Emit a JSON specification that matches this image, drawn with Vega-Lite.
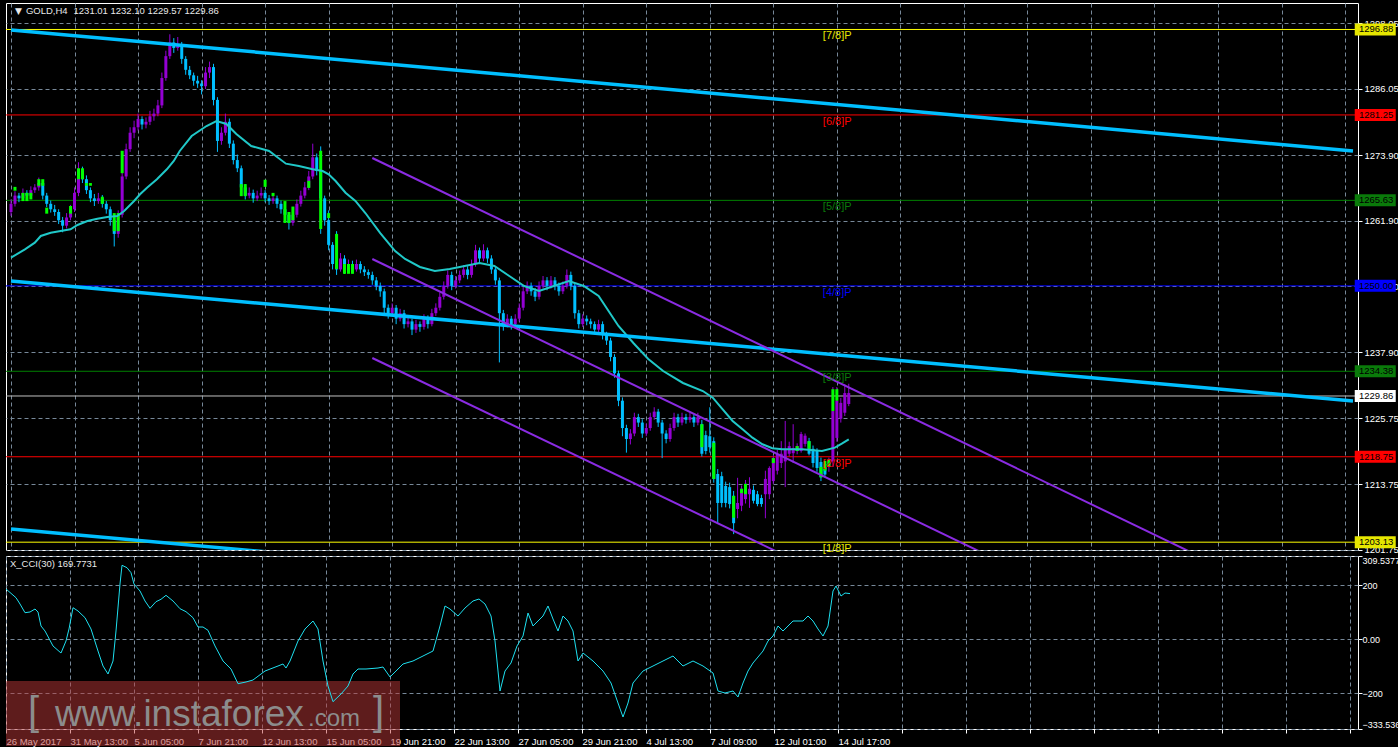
{
"$schema":"https://vega.github.io/schema/vega-lite/v6.json",
"background":"#000000",
"padding":{"left":3,"top":2,"right":0,"bottom":0},
"autosize":{"type":"pad"},
"bounds":"flush",
"spacing":6,
"config":{
 "view":{"stroke":"#ffffff","strokeWidth":1},
 "axis":{"gridColor":"#778899","gridDash":[4,3],"gridWidth":1,"gridOpacity":1,"labelColor":"#ffffff","labelFont":"Liberation Sans","labelFontSize":9.5,"tickColor":"#ffffff","tickSize":4,"domain":false,"labelOverlap":false},
 "text":{"font":"Liberation Sans"}
},
"datasets":{
"bars":[
{"i":0,"o":1263.5,"h":1265.8,"l":1262.8,"c":1265.0},{"i":1,"o":1265.0,"h":1267.3,"l":1264.5,"c":1266.5},{"i":2,"o":1266.5,"h":1267.0,"l":1265.3,"c":1266.0},{"i":3,"o":1266.0,"h":1267.8,"l":1265.5,"c":1267.0},{"i":4,"o":1267.0,"h":1267.5,"l":1265.8,"c":1266.5},{"i":5,"o":1266.5,"h":1268.2,"l":1266.0,"c":1267.5},{"i":6,"o":1267.5,"h":1268.6,"l":1267.0,"c":1268.0},{"i":7,"o":1268.0,"h":1269.8,"l":1267.4,"c":1268.8},{"i":8,"o":1268.8,"h":1269.2,"l":1265.8,"c":1266.5},{"i":9,"o":1266.5,"h":1267.0,"l":1264.4,"c":1265.0},
{"i":10,"o":1265.0,"h":1265.6,"l":1263.4,"c":1264.0},{"i":11,"o":1264.0,"h":1264.8,"l":1262.8,"c":1263.5},{"i":12,"o":1263.5,"h":1264.0,"l":1261.3,"c":1262.0},{"i":13,"o":1262.0,"h":1262.6,"l":1259.8,"c":1261.0},{"i":14,"o":1261.0,"h":1263.3,"l":1260.5,"c":1262.5},{"i":15,"o":1262.5,"h":1264.8,"l":1262.0,"c":1264.0},{"i":16,"o":1264.0,"h":1268.0,"l":1263.5,"c":1267.0},{"i":17,"o":1267.0,"h":1272.6,"l":1266.4,"c":1271.0},{"i":18,"o":1271.0,"h":1271.8,"l":1268.8,"c":1269.5},{"i":19,"o":1269.5,"h":1270.2,"l":1266.8,"c":1267.5},
{"i":20,"o":1267.5,"h":1268.0,"l":1265.3,"c":1266.0},{"i":21,"o":1266.0,"h":1266.8,"l":1264.6,"c":1265.5},{"i":22,"o":1265.5,"h":1267.0,"l":1265.0,"c":1266.0},{"i":23,"o":1266.0,"h":1266.6,"l":1264.3,"c":1265.0},{"i":24,"o":1265.0,"h":1265.5,"l":1263.2,"c":1264.0},{"i":25,"o":1264.0,"h":1264.5,"l":1261.0,"c":1262.0},{"i":26,"o":1262.0,"h":1262.6,"l":1257.2,"c":1259.5},{"i":27,"o":1259.5,"h":1263.8,"l":1258.8,"c":1263.0},{"i":28,"o":1263.0,"h":1271.0,"l":1262.5,"c":1270.0},{"i":29,"o":1270.0,"h":1276.0,"l":1269.5,"c":1275.0},
{"i":30,"o":1275.0,"h":1279.0,"l":1274.5,"c":1278.0},{"i":31,"o":1278.0,"h":1280.2,"l":1277.0,"c":1279.0},{"i":32,"o":1279.0,"h":1281.5,"l":1278.4,"c":1280.5},{"i":33,"o":1280.5,"h":1281.0,"l":1278.6,"c":1279.5},{"i":34,"o":1279.5,"h":1280.8,"l":1278.8,"c":1280.0},{"i":35,"o":1280.0,"h":1282.0,"l":1279.4,"c":1281.0},{"i":36,"o":1281.0,"h":1282.4,"l":1280.2,"c":1281.5},{"i":37,"o":1281.5,"h":1284.0,"l":1281.0,"c":1283.0},{"i":38,"o":1283.0,"h":1289.0,"l":1282.5,"c":1288.0},{"i":39,"o":1288.0,"h":1293.0,"l":1287.5,"c":1292.0},
{"i":40,"o":1292.0,"h":1296.0,"l":1291.5,"c":1294.5},{"i":41,"o":1294.5,"h":1295.3,"l":1292.6,"c":1293.5},{"i":42,"o":1293.5,"h":1295.5,"l":1293.0,"c":1294.0},{"i":43,"o":1294.0,"h":1294.6,"l":1290.6,"c":1291.5},{"i":44,"o":1291.5,"h":1292.0,"l":1288.6,"c":1289.5},{"i":45,"o":1289.5,"h":1290.2,"l":1287.8,"c":1288.5},{"i":46,"o":1288.5,"h":1289.0,"l":1286.6,"c":1287.5},{"i":47,"o":1287.5,"h":1288.4,"l":1286.2,"c":1287.0},{"i":48,"o":1287.0,"h":1287.6,"l":1285.0,"c":1286.5},{"i":49,"o":1286.5,"h":1290.0,"l":1286.0,"c":1289.0},
{"i":50,"o":1289.0,"h":1291.0,"l":1288.0,"c":1290.0},{"i":51,"o":1290.0,"h":1290.6,"l":1283.0,"c":1284.0},{"i":52,"o":1284.0,"h":1284.5,"l":1274.5,"c":1276.5},{"i":53,"o":1276.5,"h":1279.0,"l":1275.8,"c":1278.0},{"i":54,"o":1278.0,"h":1281.5,"l":1277.5,"c":1280.0},{"i":55,"o":1280.0,"h":1280.6,"l":1275.2,"c":1276.0},{"i":56,"o":1276.0,"h":1276.6,"l":1272.2,"c":1273.0},{"i":57,"o":1273.0,"h":1274.0,"l":1270.8,"c":1271.5},{"i":58,"o":1271.5,"h":1272.0,"l":1267.2,"c":1268.0},{"i":59,"o":1268.0,"h":1268.6,"l":1265.8,"c":1266.5},
{"i":60,"o":1266.5,"h":1268.0,"l":1266.0,"c":1267.0},{"i":61,"o":1267.0,"h":1267.6,"l":1265.2,"c":1266.0},{"i":62,"o":1266.0,"h":1267.4,"l":1265.5,"c":1266.5},{"i":63,"o":1266.5,"h":1268.0,"l":1266.0,"c":1267.0},{"i":64,"o":1267.0,"h":1267.5,"l":1265.3,"c":1266.0},{"i":65,"o":1266.0,"h":1266.6,"l":1264.8,"c":1265.5},{"i":66,"o":1265.5,"h":1266.8,"l":1265.0,"c":1266.0},{"i":67,"o":1266.0,"h":1266.5,"l":1264.2,"c":1265.0},{"i":68,"o":1265.0,"h":1265.6,"l":1263.2,"c":1264.0},{"i":69,"o":1264.0,"h":1264.6,"l":1262.2,"c":1263.0},
{"i":70,"o":1263.0,"h":1263.5,"l":1260.3,"c":1261.5},{"i":71,"o":1261.5,"h":1263.8,"l":1261.0,"c":1263.0},{"i":72,"o":1263.0,"h":1265.8,"l":1262.5,"c":1265.0},{"i":73,"o":1265.0,"h":1267.4,"l":1264.5,"c":1266.5},{"i":74,"o":1266.5,"h":1269.0,"l":1266.0,"c":1268.0},{"i":75,"o":1268.0,"h":1271.0,"l":1267.5,"c":1270.0},{"i":76,"o":1270.0,"h":1276.0,"l":1269.5,"c":1273.5},{"i":77,"o":1273.5,"h":1274.2,"l":1270.2,"c":1271.0},{"i":78,"o":1271.0,"h":1275.5,"l":1259.5,"c":1266.0},{"i":79,"o":1266.0,"h":1266.5,"l":1261.0,"c":1262.0},
{"i":80,"o":1262.0,"h":1263.8,"l":1256.5,"c":1257.5},{"i":81,"o":1257.5,"h":1258.0,"l":1253.0,"c":1254.0},{"i":82,"o":1254.0,"h":1260.0,"l":1252.0,"c":1253.0},{"i":83,"o":1253.0,"h":1256.0,"l":1252.6,"c":1255.0},{"i":84,"o":1255.0,"h":1255.6,"l":1252.2,"c":1253.0},{"i":85,"o":1253.0,"h":1254.8,"l":1252.5,"c":1254.0},{"i":86,"o":1254.0,"h":1254.6,"l":1252.3,"c":1253.0},{"i":87,"o":1253.0,"h":1254.8,"l":1252.6,"c":1254.0},{"i":88,"o":1254.0,"h":1254.5,"l":1252.3,"c":1253.0},{"i":89,"o":1253.0,"h":1253.6,"l":1251.8,"c":1252.5},
{"i":90,"o":1252.5,"h":1253.0,"l":1251.3,"c":1252.0},{"i":91,"o":1252.0,"h":1252.6,"l":1250.2,"c":1251.0},{"i":92,"o":1251.0,"h":1251.6,"l":1249.2,"c":1250.0},{"i":93,"o":1250.0,"h":1250.6,"l":1248.0,"c":1249.0},{"i":94,"o":1249.0,"h":1249.5,"l":1245.0,"c":1246.0},{"i":95,"o":1246.0,"h":1246.6,"l":1244.0,"c":1245.0},{"i":96,"o":1245.0,"h":1246.8,"l":1244.5,"c":1246.0},{"i":97,"o":1246.0,"h":1246.5,"l":1243.0,"c":1244.0},{"i":98,"o":1244.0,"h":1245.8,"l":1243.5,"c":1245.0},{"i":99,"o":1245.0,"h":1245.6,"l":1242.2,"c":1243.0},
{"i":100,"o":1243.0,"h":1244.3,"l":1242.4,"c":1243.5},{"i":101,"o":1243.5,"h":1244.0,"l":1241.0,"c":1242.0},{"i":102,"o":1242.0,"h":1243.8,"l":1241.4,"c":1243.0},{"i":103,"o":1243.0,"h":1243.5,"l":1241.6,"c":1242.5},{"i":104,"o":1242.5,"h":1244.8,"l":1242.0,"c":1244.0},{"i":105,"o":1244.0,"h":1244.6,"l":1242.2,"c":1243.0},{"i":106,"o":1243.0,"h":1245.8,"l":1242.6,"c":1245.0},{"i":107,"o":1245.0,"h":1246.8,"l":1244.5,"c":1246.0},{"i":108,"o":1246.0,"h":1248.8,"l":1245.5,"c":1248.0},{"i":109,"o":1248.0,"h":1250.8,"l":1247.5,"c":1250.0},
{"i":110,"o":1250.0,"h":1252.8,"l":1249.5,"c":1252.0},{"i":111,"o":1252.0,"h":1252.6,"l":1249.2,"c":1250.0},{"i":112,"o":1250.0,"h":1251.8,"l":1249.5,"c":1251.0},{"i":113,"o":1251.0,"h":1252.8,"l":1250.5,"c":1252.0},{"i":114,"o":1252.0,"h":1253.8,"l":1251.5,"c":1253.0},{"i":115,"o":1253.0,"h":1253.6,"l":1251.2,"c":1252.0},{"i":116,"o":1252.0,"h":1254.8,"l":1251.5,"c":1254.0},{"i":117,"o":1254.0,"h":1257.5,"l":1253.5,"c":1256.5},{"i":118,"o":1256.5,"h":1257.0,"l":1254.2,"c":1255.0},{"i":119,"o":1255.0,"h":1257.6,"l":1254.5,"c":1256.5},
{"i":120,"o":1256.5,"h":1257.0,"l":1254.2,"c":1255.0},{"i":121,"o":1255.0,"h":1255.6,"l":1252.2,"c":1253.0},{"i":122,"o":1253.0,"h":1253.6,"l":1250.2,"c":1251.0},{"i":123,"o":1251.0,"h":1251.5,"l":1236.0,"c":1245.0},{"i":124,"o":1245.0,"h":1245.6,"l":1241.8,"c":1243.0},{"i":125,"o":1243.0,"h":1244.8,"l":1242.4,"c":1244.0},{"i":126,"o":1244.0,"h":1244.5,"l":1242.0,"c":1243.0},{"i":127,"o":1243.0,"h":1244.8,"l":1242.5,"c":1244.0},{"i":128,"o":1244.0,"h":1246.8,"l":1243.5,"c":1246.0},{"i":129,"o":1246.0,"h":1249.8,"l":1245.5,"c":1249.0},
{"i":130,"o":1249.0,"h":1250.8,"l":1248.5,"c":1250.0},{"i":131,"o":1250.0,"h":1250.6,"l":1248.2,"c":1249.0},{"i":132,"o":1249.0,"h":1249.6,"l":1247.2,"c":1248.0},{"i":133,"o":1248.0,"h":1250.8,"l":1247.5,"c":1250.0},{"i":134,"o":1250.0,"h":1251.8,"l":1249.5,"c":1251.0},{"i":135,"o":1251.0,"h":1251.6,"l":1249.2,"c":1250.0},{"i":136,"o":1250.0,"h":1251.8,"l":1249.5,"c":1251.0},{"i":137,"o":1251.0,"h":1251.6,"l":1249.2,"c":1250.0},{"i":138,"o":1250.0,"h":1250.6,"l":1248.2,"c":1249.0},{"i":139,"o":1249.0,"h":1250.8,"l":1248.5,"c":1250.0},
{"i":140,"o":1250.0,"h":1253.0,"l":1249.5,"c":1252.0},{"i":141,"o":1252.0,"h":1252.6,"l":1249.2,"c":1250.0},{"i":142,"o":1250.0,"h":1250.5,"l":1244.0,"c":1245.0},{"i":143,"o":1245.0,"h":1245.6,"l":1242.2,"c":1243.0},{"i":144,"o":1243.0,"h":1244.8,"l":1242.5,"c":1244.0},{"i":145,"o":1244.0,"h":1244.6,"l":1242.8,"c":1243.5},{"i":146,"o":1243.5,"h":1244.0,"l":1242.2,"c":1243.0},{"i":147,"o":1243.0,"h":1243.5,"l":1241.2,"c":1242.0},{"i":148,"o":1242.0,"h":1243.8,"l":1241.5,"c":1243.0},{"i":149,"o":1243.0,"h":1243.5,"l":1240.2,"c":1241.0},
{"i":150,"o":1241.0,"h":1241.6,"l":1239.2,"c":1240.0},{"i":151,"o":1240.0,"h":1240.5,"l":1236.2,"c":1237.0},{"i":152,"o":1237.0,"h":1237.5,"l":1233.2,"c":1234.0},{"i":153,"o":1234.0,"h":1234.5,"l":1228.0,"c":1229.0},{"i":154,"o":1229.0,"h":1229.6,"l":1222.5,"c":1224.0},{"i":155,"o":1224.0,"h":1224.6,"l":1219.5,"c":1222.0},{"i":156,"o":1222.0,"h":1223.8,"l":1221.0,"c":1223.0},{"i":157,"o":1223.0,"h":1226.8,"l":1222.5,"c":1226.0},{"i":158,"o":1226.0,"h":1226.6,"l":1224.2,"c":1225.0},{"i":159,"o":1225.0,"h":1225.6,"l":1222.2,"c":1223.0},
{"i":160,"o":1223.0,"h":1224.8,"l":1222.5,"c":1224.0},{"i":161,"o":1224.0,"h":1226.8,"l":1223.5,"c":1226.0},{"i":162,"o":1226.0,"h":1227.8,"l":1225.5,"c":1227.0},{"i":163,"o":1227.0,"h":1227.5,"l":1224.2,"c":1225.0},{"i":164,"o":1225.0,"h":1225.5,"l":1218.5,"c":1223.0},{"i":165,"o":1223.0,"h":1223.6,"l":1221.2,"c":1222.0},{"i":166,"o":1222.0,"h":1224.8,"l":1221.5,"c":1224.0},{"i":167,"o":1224.0,"h":1226.8,"l":1223.5,"c":1226.0},{"i":168,"o":1226.0,"h":1226.6,"l":1224.2,"c":1225.0},{"i":169,"o":1225.0,"h":1226.8,"l":1224.5,"c":1226.0},
{"i":170,"o":1226.0,"h":1226.6,"l":1224.8,"c":1225.5},{"i":171,"o":1225.5,"h":1226.8,"l":1225.0,"c":1226.0},{"i":172,"o":1226.0,"h":1226.5,"l":1224.2,"c":1225.0},{"i":173,"o":1225.0,"h":1226.8,"l":1224.5,"c":1226.0},{"i":174,"o":1224.7,"h":1225.5,"l":1218.8,"c":1219.3},{"i":175,"o":1222.7,"h":1223.5,"l":1219.2,"c":1219.8},{"i":176,"o":1222.5,"h":1227.8,"l":1219.5,"c":1220.5},{"i":177,"o":1221.6,"h":1222.3,"l":1214.0,"c":1214.7},{"i":178,"o":1215.6,"h":1216.5,"l":1206.6,"c":1210.3},{"i":179,"o":1215.2,"h":1216.0,"l":1209.5,"c":1210.3},
{"i":180,"o":1213.4,"h":1214.2,"l":1209.5,"c":1210.3},{"i":181,"o":1213.2,"h":1214.0,"l":1209.3,"c":1210.1},{"i":182,"o":1211.6,"h":1212.5,"l":1204.6,"c":1206.6},{"i":183,"o":1209.2,"h":1214.9,"l":1207.5,"c":1210.3},{"i":184,"o":1209.8,"h":1213.5,"l":1208.8,"c":1212.9},{"i":185,"o":1211.0,"h":1214.5,"l":1210.2,"c":1213.8},{"i":186,"o":1211.9,"h":1215.0,"l":1209.4,"c":1212.9},{"i":187,"o":1212.7,"h":1213.5,"l":1210.2,"c":1210.7},{"i":188,"o":1211.9,"h":1212.5,"l":1209.7,"c":1210.1},{"i":189,"o":1211.2,"h":1211.8,"l":1209.6,"c":1210.1},
{"i":190,"o":1211.9,"h":1216.2,"l":1207.5,"c":1214.7},{"i":191,"o":1211.9,"h":1217.0,"l":1211.0,"c":1216.7},{"i":192,"o":1214.3,"h":1219.0,"l":1213.8,"c":1218.5},{"i":193,"o":1216.2,"h":1220.0,"l":1215.5,"c":1219.3},{"i":194,"o":1217.6,"h":1221.6,"l":1216.7,"c":1219.3},{"i":195,"o":1217.9,"h":1225.3,"l":1213.2,"c":1220.2},{"i":196,"o":1219.3,"h":1221.5,"l":1218.8,"c":1220.7},{"i":197,"o":1219.4,"h":1224.7,"l":1217.6,"c":1220.3},{"i":198,"o":1219.8,"h":1221.2,"l":1219.2,"c":1220.7},{"i":199,"o":1219.8,"h":1223.3,"l":1219.5,"c":1222.9},
{"i":200,"o":1221.1,"h":1223.0,"l":1220.6,"c":1222.6},{"i":201,"o":1221.6,"h":1222.2,"l":1219.0,"c":1219.3},{"i":202,"o":1220.2,"h":1220.8,"l":1216.8,"c":1217.6},{"i":203,"o":1219.8,"h":1220.3,"l":1216.0,"c":1216.7},{"i":204,"o":1217.8,"h":1218.6,"l":1214.3,"c":1215.0},{"i":205,"o":1217.4,"h":1218.0,"l":1215.0,"c":1215.5},{"i":206,"o":1216.9,"h":1218.6,"l":1216.0,"c":1218.3},{"i":207,"o":1217.9,"h":1231.5,"l":1216.9,"c":1227.1},{"i":208,"o":1222.2,"h":1231.5,"l":1221.5,"c":1229.0},{"i":209,"o":1225.7,"h":1229.5,"l":1225.0,"c":1228.6},
{"i":210,"o":1226.8,"h":1232.0,"l":1226.2,"c":1230.4},{"i":211,"o":1228.4,"h":1232.1,"l":1228.0,"c":1230.4}
],
"green":[
{"i":1,"a":1268.1,"b":1267.4},{"i":3,"a":1267.0,"b":1265.5},{"i":4,"a":1267.0,"b":1265.5},{"i":5,"a":1267.0,"b":1265.8},{"i":7,"a":1269.5,"b":1268.3},{"i":8,"a":1269.5,"b":1268.3},{"i":9,"a":1264.3,"b":1263.2},{"i":15,"a":1264.6,"b":1263.2},{"i":17,"a":1271.5,"b":1269.5},{"i":18,"a":1271.5,"b":1269.5},{"i":19,"a":1268.8,"b":1268.3},{"i":20,"a":1268.8,"b":1268.3},{"i":23,"a":1266.3,"b":1265.0},{"i":26,"a":1263.3,"b":1260.0},{"i":27,"a":1263.3,"b":1260.0},{"i":28,"a":1274.7,"b":1270.6},{"i":58,"a":1268.6,"b":1266.4},{"i":59,"a":1268.6,"b":1266.4},{"i":64,"a":1269.4,"b":1268.1},{"i":66,"a":1267.0,"b":1266.4},{"i":69,"a":1265.5,"b":1261.5},{"i":70,"a":1263.5,"b":1261.5},{"i":71,"a":1264.5,"b":1262.0},{"i":75,"a":1269.2,"b":1267.9},{"i":78,"a":1274.7,"b":1260.4},{"i":80,"a":1263.3,"b":1262.4},{"i":82,"a":1259.5,"b":1253.1},{"i":84,"a":1254.0,"b":1252.2},{"i":85,"a":1254.0,"b":1252.2},{"i":86,"a":1254.0,"b":1252.2},
{"i":174,"a":1224.7,"b":1220.5},{"i":177,"a":1221.3,"b":1214.7},{"i":182,"a":1211.6,"b":1207.6},{"i":184,"a":1212.9,"b":1212.1},{"i":185,"a":1213.8,"b":1211.9},{"i":192,"a":1218.5,"b":1217.6},{"i":198,"a":1220.7,"b":1219.8},{"i":201,"a":1221.6,"b":1220.2},{"i":204,"a":1216.9,"b":1215.0},{"i":205,"a":1218.0,"b":1216.2},{"i":206,"a":1218.3,"b":1216.9},{"i":207,"a":1231.1,"b":1227.1},{"i":208,"a":1231.1,"b":1229.0}
],
"ma":[
{"i":0,"p":1255.15},{"i":3.5,"p":1256.68},{"i":6,"p":1257.89},{"i":7.5,"p":1259.12},{"i":10,"p":1259.72},{"i":12.5,"p":1260.03},{"i":15,"p":1260.34},{"i":16.75,"p":1261.13},{"i":19.25,"p":1261.86},{"i":21.75,"p":1262.28},{"i":24.25,"p":1262.59},{"i":26.75,"p":1262.77},{"i":28.5,"p":1263.69},{"i":31,"p":1265.52},{"i":32.5,"p":1266.74},{"i":34.25,"p":1267.95},{"i":36.75,"p":1269.48},{"i":39.25,"p":1271.31},{"i":41,"p":1272.83},{"i":42.5,"p":1274.66},{"i":45.5,"p":1277.4},{"i":49.25,"p":1279.23},{"i":51.75,"p":1280.14},{"i":54.25,"p":1279.6},{"i":56.75,"p":1277.77},{"i":60.5,"p":1275.57},{"i":65,"p":1274.66},{"i":69.25,"p":1272.34},{"i":72.5,"p":1271.92},{"i":76,"p":1271.31},{"i":78.5,"p":1271.0},{"i":80,"p":1270.4},{"i":81.75,"p":1269.17},{"i":84.25,"p":1267.03},{"i":86.75,"p":1265.52},{"i":89.25,"p":1263.32},{"i":93,"p":1259.66},{"i":96.75,"p":1256.37},{"i":99.25,"p":1254.91},{"i":103,"p":1253.45},{"i":106.75,"p":1252.72},{"i":110.5,"p":1253.08},{"i":114.25,"p":1253.63},{"i":118,"p":1254.18},{"i":121.75,"p":1253.63},{"i":125.5,"p":1251.8},{"i":129.25,"p":1249.97},{"i":133,"p":1249.06},{"i":136.75,"p":1249.97},{"i":140.5,"p":1250.89},{"i":144.25,"p":1249.97},{"i":148,"p":1248.14},{"i":150.5,"p":1245.4},{"i":153,"p":1242.66},{"i":156.75,"p":1239.55},{"i":160.5,"p":1236.63},{"i":164.25,"p":1234.43},{"i":169.25,"p":1232.24},{"i":174.25,"p":1230.77},{"i":176.75,"p":1229.55},{"i":179.25,"p":1227.43},{"i":181.75,"p":1225.29},{"i":184.25,"p":1223.77},{"i":186.75,"p":1222.24},{"i":189.25,"p":1221.03},{"i":191.75,"p":1220.3},{"i":194.25,"p":1220.11},{"i":199.25,"p":1220.11},{"i":204.25,"p":1219.8},{"i":207.5,"p":1220.41},{"i":209.25,"p":1221.14},{"i":211,"p":1221.94}
],
"cci":[
{"i":0,"v":186.9},{"i":2.5,"v":154.5},{"i":3.5,"v":131.1},{"i":4.75,"v":98.8},{"i":6,"v":101.4},{"i":7.25,"v":112.5},{"i":8,"v":101.4},{"i":8.75,"v":49.3},{"i":9.75,"v":30.8},{"i":11.75,"v":-25.0},{"i":13.75,"v":-51.1},{"i":15,"v":-6.4},{"i":15.75,"v":38.2},{"i":16.75,"v":117.4},{"i":18,"v":105.1},{"i":19.75,"v":80.2},{"i":21.25,"v":38.2},{"i":23,"v":-43.6},{"i":24.25,"v":-99.4},{"i":25.5,"v":-129.1},{"i":26.75,"v":-80.8},{"i":27.5,"v":30.8},{"i":28.5,"v":205.4},{"i":29,"v":275.0},{"i":30.25,"v":266.0},{"i":31.25,"v":247.5},{"i":32,"v":205.4},{"i":33.5,"v":179.4},{"i":34.75,"v":142.3},{"i":36,"v":115.1},{"i":37.5,"v":139.7},{"i":38.75,"v":148.6},{"i":40,"v":163.4},{"i":41.75,"v":142.3},{"i":43.5,"v":113.6},{"i":45,"v":102.5},{"i":46.75,"v":80.2},{"i":48,"v":45.6},{"i":49.25,"v":45.6},{"i":50.5,"v":33.3},{"i":52.25,"v":-25.0},{"i":54.25,"v":-80.8},{"i":56.25,"v":-110.5},{"i":58,"v":-165.2},{"i":60,"v":-158.8},{"i":61.75,"v":-151.4},{"i":64.75,"v":-118.0},{"i":68,"v":-99.4},{"i":69.25,"v":-91.9},{"i":70,"v":-106.8},{"i":71,"v":-80.8},{"i":73,"v":-6.4},{"i":74.75,"v":38.2},{"i":76.75,"v":67.9},{"i":78,"v":38.2},{"i":79.25,"v":-80.8},{"i":80.5,"v":-173.7},{"i":81.75,"v":-232.0},{"i":83.75,"v":-203.4},{"i":85.5,"v":-173.7},{"i":86.75,"v":-129.1},{"i":88,"v":-110.5},{"i":90,"v":-110.5},{"i":93,"v":-106.8},{"i":94.25,"v":-103.1},{"i":96,"v":-140.2},{"i":97.5,"v":-118.0},{"i":99.25,"v":-91.9},{"i":101.75,"v":-80.8},{"i":104.25,"v":-62.2},{"i":106.75,"v":-43.6},{"i":108.5,"v":49.3},{"i":109.75,"v":123.7},{"i":111,"v":112.5},{"i":113,"v":86.5},{"i":114.75,"v":116.2},{"i":116.75,"v":142.3},{"i":118.25,"v":149.7},{"i":119.75,"v":131.1},{"i":121.25,"v":86.5},{"i":122.25,"v":-6.4},{"i":123.5,"v":-192.3},{"i":124.75,"v":-118.0},{"i":126.25,"v":-88.2},{"i":127.75,"v":-25.0},{"i":129.25,"v":12.1},{"i":130.5,"v":97.6},{"i":131.75,"v":49.3},{"i":133,"v":67.9},{"i":134.25,"v":86.5},{"i":135.5,"v":123.7},{"i":136.75,"v":75.3},{"i":138,"v":30.8},{"i":139.25,"v":86.5},{"i":140.5,"v":67.9},{"i":141.75,"v":30.8},{"i":143,"v":-80.8},{"i":144.25,"v":-51.1},{"i":146.75,"v":-80.8},{"i":149.25,"v":-118.0},{"i":151.25,"v":-162.6},{"i":153,"v":-236.9},{"i":154.25,"v":-289.0},{"i":155.5,"v":-236.9},{"i":156.75,"v":-162.6},{"i":159.25,"v":-118.0},{"i":161.75,"v":-99.4},{"i":164.25,"v":-80.8},{"i":166.75,"v":-62.2},{"i":169.25,"v":-99.4},{"i":171.75,"v":-80.8},{"i":174.25,"v":-99.4},{"i":176.75,"v":-125.4},{"i":178,"v":-192.3},{"i":179.75,"v":-199.7},{"i":181.75,"v":-192.3},{"i":183,"v":-214.6},{"i":184.25,"v":-162.6},{"i":185.5,"v":-118.0},{"i":186.75,"v":-88.2},{"i":189.25,"v":-43.6},{"i":190.5,"v":-6.4},{"i":191.75,"v":12.1},{"i":193,"v":49.3},{"i":194.25,"v":30.8},{"i":195.5,"v":49.3},{"i":196.75,"v":67.9},{"i":199.25,"v":67.9},{"i":200.5,"v":86.5},{"i":201.75,"v":67.9},{"i":203,"v":38.2},{"i":204.25,"v":12.1},{"i":205.5,"v":49.3},{"i":206.75,"v":179.4},{"i":207.5,"v":198.0},{"i":208.75,"v":160.8},{"i":209.75,"v":172.0},{"i":211,"v":169.77}
],
"trend":[
{"id":"b1","i":0,"p":1296.78},{"id":"b1","i":338,"p":1274.66},
{"id":"b2","i":0,"p":1250.89},{"id":"b2","i":338,"p":1228.94},
{"id":"b3","i":0,"p":1205.54},{"id":"b3","i":338,"p":1183.6},
{"id":"v1","i":91,"p":1273.38},{"id":"v1","i":338,"p":1187.02},
{"id":"v2","i":91,"p":1254.91},{"id":"v2","i":338,"p":1168.55},
{"id":"v3","i":91,"p":1236.81},{"id":"v3","i":338,"p":1150.99}
],
"levels":[
{"n":"7/8","p":1296.88,"lab":"[7/8]P"},{"n":"6/8","p":1281.25,"lab":"[6/8]P"},{"n":"5/8","p":1265.63,"lab":"[5/8]P"},{"n":"4/8","p":1250.0,"lab":"[4/8]P"},{"n":"3/8","p":1234.38,"lab":"[3/8]P"},{"n":"cur","p":1229.86,"lab":""},{"n":"2/8","p":1218.75,"lab":"[2/8]P"},{"n":"1/8","p":1203.13,"lab":"[1/8]P"}
],
"head":[{"tri":"▼","sym":"GOLD,H4","q":"1231.01 1232.10 1229.57 1229.86","cci":"X_CCI(30) 169.7731"}]
},
"vconcat":[
{
"width":1352,"height":547,
"layer":[
{"data":{"name":"levels"},"mark":{"type":"rule","strokeWidth":1},
 "encoding":{
  "y":{"field":"p","type":"quantitative","title":null,"scale":{"domain":[1201.7,1301.72],"nice":false,"zero":false},
   "axis":{"orient":"right","values":[1298.05,1292.05,1286.05,1279.9,1273.9,1267.9,1261.9,1255.9,1249.9,1243.9,1237.9,1231.75,1225.75,1219.75,1213.75,1207.75,1201.75],"format":".2f","grid":true,"labelPadding":2}},
  "stroke":{"field":"n","type":"nominal","legend":null,"scale":{"domain":["7/8","6/8","5/8","4/8","3/8","cur","2/8","1/8"],"range":["#ffff00","#ff0000","#008000","#0000ff","#008000","#c0c0c0","#ff0000","#ffff00"]}}
 }},
{"data":{"name":"bars"},"mark":{"type":"rule","strokeWidth":1},
 "encoding":{
  "x":{"field":"i","type":"quantitative","title":null,"scale":{"domain":[0,338],"nice":false,"zero":false},
   "axis":{"values":[0,8,16,24,32,40,48,56,64,72,80,88,96,104,112,120,128,136,144,152,160,168,176,184,192,200,208,216,224,232,240,248,256,264,272,280,288,296,304,312,320,328,336],"labels":false,"ticks":false,"grid":true}},
  "y":{"field":"l","type":"quantitative","title":null},
  "y2":{"field":"h"},
  "color":{"condition":{"test":"datum.c >= datum.o","value":"#9400d3"},"value":"#00bfff"}
 }},
{"data":{"name":"bars"},"mark":{"type":"bar","width":3},
 "encoding":{
  "x":{"field":"i","type":"quantitative","title":null},
  "y":{"field":"o","type":"quantitative","title":null},
  "y2":{"field":"c"},
  "color":{"condition":{"test":"datum.c >= datum.o","value":"#9400d3"},"value":"#00bfff"}
 }},
{"data":{"name":"green"},"mark":{"type":"bar","width":3,"color":"#00ff00"},
 "encoding":{
  "x":{"field":"i","type":"quantitative","title":null},
  "y":{"field":"a","type":"quantitative","title":null},
  "y2":{"field":"b"}
 }},
{"data":{"name":"ma"},"mark":{"type":"line","color":"#20c8c8","strokeWidth":2},
 "encoding":{"x":{"field":"i","type":"quantitative","title":null},"y":{"field":"p","type":"quantitative","title":null}}},
{"data":{"name":"trend"},"transform":[{"filter":"datum.id[0] == 'b'"}],"mark":{"type":"line","color":"#00bfff","strokeWidth":3.5,"clip":true},
 "encoding":{"x":{"field":"i","type":"quantitative","title":null},"y":{"field":"p","type":"quantitative","title":null},"detail":{"field":"id"}}},
{"data":{"name":"trend"},"transform":[{"filter":"datum.id[0] == 'v'"}],"mark":{"type":"line","color":"#8a2be2","strokeWidth":2,"clip":true},
 "encoding":{"x":{"field":"i","type":"quantitative","title":null},"y":{"field":"p","type":"quantitative","title":null},"detail":{"field":"id"}}},
{"data":{"name":"levels"},"transform":[{"filter":"datum.lab != ''"}],"mark":{"type":"text","fontSize":11,"align":"center","baseline":"middle","dy":7},
 "encoding":{"x":{"datum":208.1},"y":{"field":"p","type":"quantitative","title":null},"text":{"field":"lab"},
  "color":{"field":"n","type":"nominal","legend":null,"scale":{"domain":["7/8","6/8","5/8","4/8","3/8","cur","2/8","1/8"],"range":["#e6e600","#ff0000","#0a7a0a","#0000ff","#0a7a0a","#ffffff","#ff0000","#e6e600"]}}}},
{"data":{"name":"levels"},"mark":{"type":"tick","orient":"horizontal","size":41,"thickness":12,"opacity":1,"clip":false},
 "encoding":{"x":{"datum":343.6},"y":{"field":"p","type":"quantitative","title":null},
  "color":{"field":"n","type":"nominal","legend":null}}},
{"data":{"name":"levels"},"mark":{"type":"text","fontSize":9.5,"align":"left","baseline":"middle","color":"#000000","clip":false},
 "encoding":{"x":{"datum":339.5},"y":{"field":"p","type":"quantitative","title":null},"text":{"field":"p","format":".2f"}}},
{"data":{"name":"head"},"mark":{"type":"text","fontSize":9,"align":"left","baseline":"middle","color":"#e8e8e8","font":"DejaVu Sans"},
 "encoding":{"x":{"datum":1},"y":{"datum":1300.3},"text":{"field":"tri"}}},
{"data":{"name":"head"},"mark":{"type":"text","fontSize":9.5,"align":"left","baseline":"middle","color":"#e8e8e8"},
 "encoding":{"x":{"datum":3.75},"y":{"datum":1300.26},"text":{"field":"sym"}}},
{"data":{"name":"head"},"mark":{"type":"text","fontSize":9.5,"align":"left","baseline":"middle","color":"#e8e8e8"},
 "encoding":{"x":{"datum":15.75},"y":{"datum":1300.26},"text":{"field":"q"}}}
]
},
{
"width":1352,"height":173,
"layer":[
{"data":{"values":[{}]},"mark":{"type":"rect","fill":"#bc3838","opacity":0.5,"clip":false},
 "encoding":{"x":{"datum":0},"x2":{"datum":98.5},"y":{"datum":-155.1},"y2":{"datum":-396.7}}},
{"data":{"values":[{"a":"[","b":"www.instaforex","c":".com","d":"]"}]},"mark":{"type":"text","fontSize":40,"align":"left","baseline":"alphabetic","color":"#8c8c8c","clip":false},
 "encoding":{"x":{"datum":5.5},"y":{"datum":-320},"text":{"field":"a"}}},
{"data":{"values":[{"a":"[","b":"www.instaforex","c":".com","d":"]"}]},"mark":{"type":"text","fontSize":37,"align":"left","baseline":"alphabetic","color":"#8c8c8c","clip":false},
 "encoding":{"x":{"datum":12.25},"y":{"datum":-322.4},"text":{"field":"b"}}},
{"data":{"values":[{"a":"[","b":"www.instaforex","c":".com","d":"]"}]},"mark":{"type":"text","fontSize":24,"align":"left","baseline":"alphabetic","color":"#8c8c8c","clip":false},
 "encoding":{"x":{"datum":75.5},"y":{"datum":-322.4},"text":{"field":"c"}}},
{"data":{"values":[{"a":"[","b":"www.instaforex","c":".com","d":"]"}]},"mark":{"type":"text","fontSize":40,"align":"left","baseline":"alphabetic","color":"#8c8c8c","clip":false},
 "encoding":{"x":{"datum":91.75},"y":{"datum":-320},"text":{"field":"d"}}},
{"data":{"name":"cci"},"mark":{"type":"line","color":"#1ee0f0","strokeWidth":1},
 "encoding":{
  "x":{"field":"i","type":"quantitative","title":null,"scale":{"domain":[0,338],"nice":false,"zero":false},
   "axis":{"values":[0,8,16,24,32,40,48,56,64,72,80,88,96,104,112,120,128,136,144,152,160,168,176,184,192,200,208,216,224,232,240,248,256,264,272,280,288,296,304,312,320,328,336],"grid":true,"labelAlign":"left","labelBaseline":"top","labelPadding":3,"labelFlush":false,
    "labelExpr":"datum.value % 16 == 0 && datum.value <= 208 ? ['26 May 2017','31 May 13:00','5 Jun 05:00','7 Jun 21:00','12 Jun 13:00','15 Jun 05:00','19 Jun 21:00','22 Jun 13:00','27 Jun 05:00','29 Jun 21:00','4 Jul 13:00','7 Jul 09:00','12 Jul 01:00','14 Jul 17:00'][datum.value / 16] : ''"}},
  "y":{"field":"v","type":"quantitative","title":null,"scale":{"domain":[-333.5363,309.5377],"nice":false,"zero":false},
   "axis":{"orient":"right","values":[309.5377,250,200,100,0,-100,-200,-250,-333.5363],"grid":true,"labelFlush":true,"labelPadding":0,"labelFontSize":9,
    "labelExpr":"datum.value == 0 ? '0.00' : (abs(datum.value) > 300 ? format(datum.value, '.4f') : format(datum.value, 'd'))"}}
 }},
{"data":{"name":"head"},"mark":{"type":"text","fontSize":9.5,"align":"left","baseline":"middle","color":"#e8e8e8"},
 "encoding":{"x":{"datum":1},"y":{"datum":279.8},"text":{"field":"cci"}}}
]
}
]
}
